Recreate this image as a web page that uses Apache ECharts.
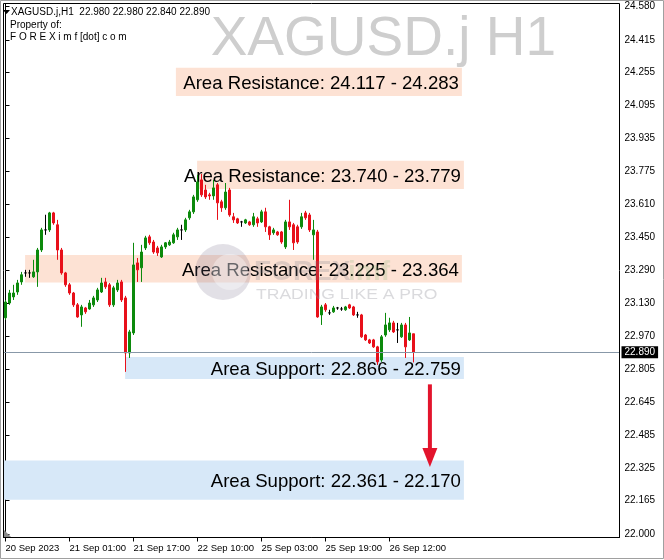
<!DOCTYPE html>
<html><head><meta charset="utf-8">
<script src="https://cdn.jsdelivr.net/npm/echarts@6/dist/echarts.min.js"></script>
<style>html,body{margin:0;padding:0;background:#fff}#c{width:664px;height:560px}</style>
</head><body><div id="c"></div>
<script>
// ---------------- data ----------------
const symbolTitle = 'XAGUSD.j H1';
const headerLine = 'XAGUSD.j,H1  22.980 22.980 22.840 22.890';
const headerLine2 = 'Property of:';
const headerLine3 = 'F O R E X i m f [dot] c o m';

const opens = [23.058,23.130,23.160,23.184,23.233,23.277,23.277,23.258,23.282,23.389,
23.487,23.487,23.570,23.512,23.389,23.277,23.219,23.179,23.121,23.072,
23.106,23.101,23.121,23.145,23.184,23.233,23.219,23.121,23.194,23.233,
23.155,22.886,22.984,23.326,23.302,23.399,23.453,23.428,23.399,23.355,
23.404,23.414,23.424,23.453,23.487,23.487,23.546,23.575,23.634,23.731,
23.682,23.658,23.653,23.707,23.624,23.595,23.682,23.551,23.541,23.526,
23.521,23.526,23.512,23.541,23.526,23.575,23.502,23.473,23.477,23.477,
23.404,23.526,23.512,23.502,23.502,23.570,23.560,23.463,23.477,23.072,
23.121,23.082,23.087,23.106,23.101,23.097,23.121,23.111,23.072,23.072,
22.974,22.950,22.950,22.916,22.852,22.974,22.999,23.033,22.999,22.965,
23.023,22.950,22.980];
const highs = [23.145,23.194,23.219,23.243,23.282,23.292,23.292,23.341,23.399,23.497,
23.561,23.575,23.575,23.536,23.399,23.282,23.228,23.184,23.130,23.121,
23.111,23.145,23.165,23.204,23.253,23.253,23.228,23.214,23.243,23.243,
23.165,22.999,23.424,23.350,23.414,23.458,23.463,23.438,23.409,23.414,
23.428,23.438,23.473,23.497,23.512,23.546,23.585,23.658,23.756,23.760,
23.707,23.668,23.731,23.716,23.634,23.716,23.692,23.570,23.546,23.531,
23.541,23.531,23.570,23.551,23.585,23.595,23.507,23.497,23.482,23.482,
23.536,23.634,23.521,23.512,23.570,23.580,23.570,23.536,23.487,23.121,
23.130,23.097,23.116,23.111,23.111,23.116,23.126,23.116,23.087,23.077,
22.979,22.955,22.955,22.921,22.974,23.082,23.058,23.043,23.033,23.033,
23.033,23.062,22.980];
const lows = [23.048,23.121,23.145,23.170,23.219,23.258,23.253,23.253,23.209,23.379,
23.463,23.477,23.512,23.341,23.268,23.209,23.170,23.111,23.058,23.014,
23.077,23.097,23.111,23.135,23.179,23.199,23.111,23.111,23.184,23.135,
22.794,22.862,22.974,23.233,23.233,23.389,23.414,23.370,23.360,23.350,
23.394,23.409,23.419,23.438,23.438,23.477,23.536,23.565,23.624,23.648,
23.638,23.634,23.634,23.536,23.575,23.585,23.551,23.521,23.516,23.502,
23.516,23.507,23.502,23.502,23.521,23.477,23.438,23.463,23.458,23.419,
23.394,23.487,23.389,23.419,23.492,23.536,23.477,23.341,23.058,23.023,
23.087,23.072,23.082,23.097,23.092,23.092,23.101,23.067,23.058,22.960,
22.945,22.930,22.911,22.828,22.843,22.965,22.989,22.984,22.935,22.960,
22.862,22.945,22.840];
const closes = [23.135,23.179,23.179,23.228,23.268,23.277,23.277,23.282,23.389,23.487,
23.487,23.570,23.521,23.389,23.277,23.219,23.179,23.121,23.062,23.111,
23.087,23.130,23.155,23.194,23.228,23.209,23.121,23.204,23.228,23.145,
22.886,22.989,23.316,23.292,23.379,23.448,23.424,23.379,23.375,23.404,
23.424,23.428,23.463,23.487,23.487,23.536,23.575,23.648,23.721,23.658,
23.648,23.653,23.692,23.619,23.595,23.672,23.560,23.536,23.521,23.526,
23.536,23.512,23.551,23.521,23.575,23.502,23.463,23.487,23.463,23.428,
23.526,23.502,23.424,23.428,23.551,23.546,23.487,23.487,23.062,23.111,
23.097,23.082,23.106,23.106,23.101,23.111,23.106,23.072,23.072,22.965,
22.950,22.935,22.916,22.843,22.965,23.023,23.033,22.989,22.999,23.023,
22.916,22.984,22.890];

const timeLabels = ['20 Sep 2023','21 Sep 01:00','21 Sep 17:00','22 Sep 10:00','25 Sep 03:00','25 Sep 19:00','26 Sep 12:00'];
const barsPerLabel = 16;
const totalSlots = 154;   // bars + empty chart shift on the right

const yTickValues = [24.580,24.415,24.255,24.095,23.935,23.775,23.610,23.450,23.290,23.130,22.970,22.805,22.645,22.485,22.325,22.165,22.000];
const yMin = 21.9854, yMax = 24.5922;
const lastPrice = 22.890;

// zones (bar index units for x, price for y)
const zoneStart = [42.6, 47.9, 4.9, 29.9, -0.5];
const zoneEnd   = [114.1, 114.6, 114.1, 114.6, 114.6];
const zoneLow   = [24.141, 23.687, 23.230, 22.759, 22.170];
const zoneHigh  = [24.278, 23.824, 23.364, 22.866, 22.361];
const zoneTexts = ['Area Resistance: 24.117 - 24.283','Area Resistance: 23.740 - 23.779','Area Resistance: 23.225 - 23.364','Area Support: 22.866 - 22.759','Area Support: 22.361 - 22.170'];
const zoneKinds = ['res','res','res','sup','sup'];

const arrowX = 106.1, arrowFromPrice = 22.733, arrowToPrice = 22.330;

// ---------------- chart ----------------
const FONT = '"Liberation Sans", Arial, sans-serif';
const GREEN = '#0c8a0c', RED = '#e8101a';
const categories = Array.from({length: totalSlots}, (_, i) => String(i));
const candleData = opens.map((o, i) => {
  const v = [o, closes[i], lows[i], highs[i]];
  if (o === closes[i]) return {value: v, itemStyle: {color:'#000', color0:'#000', borderColor:'#000', borderColor0:'#000'}};
  return v;
});
const labelShown = idx => idx % barsPerLabel === 0 && idx / barsPerLabel < timeLabels.length;
const zoneData = zoneStart.map((s, i) => [s, zoneEnd[i], zoneLow[i], zoneHigh[i]]);

const chart = echarts.init(document.getElementById('c'), null, {renderer: 'canvas'});
chart.setOption({
  animation: false,
  backgroundColor: '#fff',
  grid: {left: 3.5, top: 3.5, width: 616, height: 534, containLabel: false},
  xAxis: [{
    type: 'category', data: categories, boundaryGap: true,
    axisLine: {show: true, lineStyle: {color: '#000', width: 1}},
    axisTick: {show: true, interval: labelShown, alignWithLabel: true, length: 4, lineStyle: {color: '#000'}},
    axisLabel: {interval: labelShown, formatter: (v, idx) => timeLabels[idx / barsPerLabel] || '', align: 'left', margin: 6, fontSize: 9.5, color: '#000', fontFamily: FONT},
    splitLine: {show: false}
  }, {
    type: 'value', min: -0.5, max: totalSlots - 0.5, show: false
  }],
  yAxis: [{
    type: 'value', position: 'right', min: yMin, max: yMax, scale: true,
    axisLine: {show: true, lineStyle: {color: '#000', width: 1}},
    axisTick: {show: true, customValues: yTickValues, length: 4, lineStyle: {color: '#000'}},
    axisLabel: {customValues: yTickValues, formatter: v => v.toFixed(3), margin: 5, fontSize: 10, color: '#000', fontFamily: FONT},
    splitLine: {show: false}
  }],
  series: [{
    type: 'custom', name: 'zones', xAxisIndex: 1, yAxisIndex: 0, z: 1, silent: true,
    data: zoneData,
    renderItem: (params, api) => {
      const i = params.dataIndex;
      const p0 = api.coord([api.value(0), api.value(3)]);
      const p1 = api.coord([api.value(1), api.value(2)]);
      return {type: 'rect', shape: {x: p0[0], y: p0[1], width: p1[0] - p0[0], height: p1[1] - p0[1]},
        style: {fill: zoneKinds[i] === 'res' ? '#fde2d4' : '#d7e8f8'}};
    }
  }, {
    type: 'custom', name: 'zoneText', xAxisIndex: 1, yAxisIndex: 0, z: 2, silent: true,
    data: zoneData,
    renderItem: (params, api) => {
      const i = params.dataIndex;
      const p1 = api.coord([api.value(1), (api.value(2) + api.value(3)) / 2]);
      return {type: 'text', style: {text: zoneTexts[i], x: p1[0] - 3, y: p1[1] + 2, align: 'right', verticalAlign: 'middle',
        font: '18.6px ' + FONT, fill: '#000'}};
    }
  }, {
    type: 'candlestick', name: 'XAGUSD', xAxisIndex: 0, yAxisIndex: 0, z: 3,
    barWidth: 2,
    data: candleData,
    itemStyle: {color: GREEN, color0: RED, borderColor: GREEN, borderColor0: RED, borderWidth: 1},
    markLine: {
      silent: true, symbol: ['none', 'none'], animation: false,
      data: [{yAxis: lastPrice}],
      lineStyle: {color: '#8898a8', width: 1, type: 'solid'},
      label: {show: true, position: 'end', formatter: lastPrice.toFixed(3), backgroundColor: '#000', color: '#fff',
        padding: [1, 3, 1, 3], fontSize: 10, fontFamily: FONT, distance: 2}
    }
  }, {
    type: 'custom', name: 'arrow', xAxisIndex: 1, yAxisIndex: 0, z: 5, silent: true,
    data: [[arrowX, arrowFromPrice, arrowToPrice]],
    renderItem: (params, api) => {
      const a = api.coord([api.value(0), api.value(1)]);
      const b = api.coord([api.value(0), api.value(2)]);
      const head = 19, hw = 7.5;
      return {type: 'group', children: [
        {type: 'line', shape: {x1: a[0], y1: a[1], x2: b[0], y2: b[1] - head + 2}, style: {stroke: '#e3142c', lineWidth: 4}},
        {type: 'polygon', shape: {points: [[b[0] - hw, b[1] - head], [b[0] + hw, b[1] - head], [b[0], b[1]]]}, style: {fill: '#e3142c'}}
      ]};
    }
  }],
  graphic: [
    // watermark symbol title
    {type: 'text', right: 664 - 556, top: 12, z: 0, silent: true,
      style: {text: symbolTitle, font: '55px ' + FONT, fill: '#cecece'}},
    // logo watermark
    {type: 'circle', shape: {cx: 223, cy: 272, r: 28}, z: 4, silent: true, style: {fill: 'rgba(110,100,130,0.2)'}},
    {type: 'circle', shape: {cx: 230, cy: 272, r: 18}, z: 4, silent: true, style: {fill: 'rgba(255,255,255,0.35)'}},
    {type: 'text', left: 254, top: 258, z: 4, silent: true, style: {text: 'FOREX', font: 'bold 28px ' + FONT, fill: 'rgba(120,120,135,0.24)'}},
    {type: 'text', left: 348, top: 258, z: 4, silent: true, style: {text: 'imf', font: 'bold 28px ' + FONT, fill: 'rgba(120,180,110,0.2)'}},
    {type: 'text', x: 256, y: 287, scaleX: 1.17, z: 4, silent: true, style: {text: 'TRADING LIKE A PRO', font: '15px ' + FONT, fill: 'rgba(140,140,150,0.32)'}},
    // header
    {type: 'polygon', shape: {points: [[3, 10], [10, 10], [6.5, 14]]}, z: 10, style: {fill: '#000'}},
    {type: 'text', left: 11, top: 7, z: 10, style: {text: headerLine, font: '10px ' + FONT, fill: '#000'}},
    {type: 'text', left: 10, top: 20, z: 10, style: {text: headerLine2, font: '10px ' + FONT, fill: '#000'}},
    {type: 'text', left: 10, top: 32, z: 10, style: {text: headerLine3, font: '10px ' + FONT, fill: '#000'}},
    // frame
    {type: 'rect', shape: {x: 3.5, y: 3.5, width: 616, height: 534}, z: 20, silent: true, style: {fill: null, stroke: '#000', lineWidth: 1}},
    {type: 'polygon', shape: {points: [[4, 530], [4, 537], [11, 537]]}, z: 21, silent: true, style: {fill: '#888'}},
    // window border
    {type: 'rect', shape: {x: 0.5, y: 0.5, width: 663, height: 558}, z: 20, silent: true, style: {fill: null, stroke: '#a0a0a0', lineWidth: 1}}
  ]
});
</script>
</body></html>
